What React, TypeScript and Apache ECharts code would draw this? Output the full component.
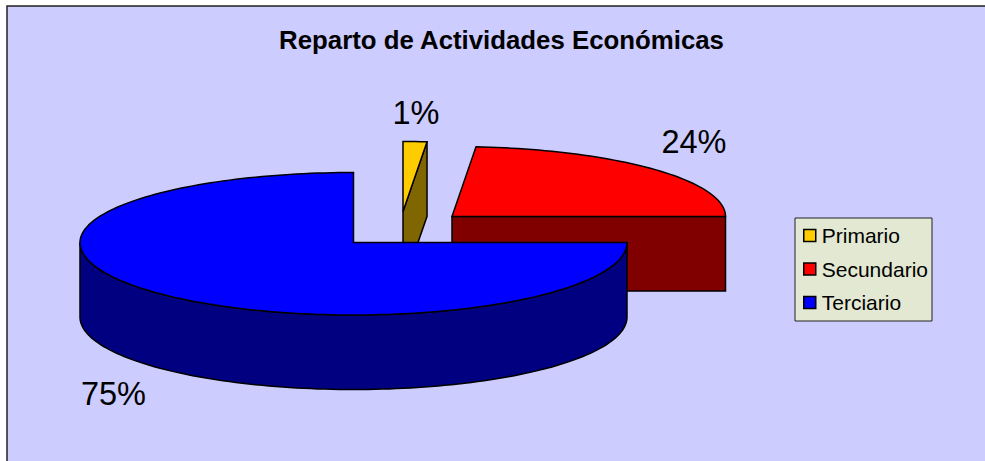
import React, { useEffect, useRef } from "react";
import * as echarts from "echarts";

const TITLE = "Reparto de Actividades Económicas";
const CATEGORIES = ["Primario", "Secundario", "Terciario"];
const VALUES = [1.4, 23.6, 75];
const TOP_COLORS = ["#FFCC00", "#FF0000", "#0000FF"];
const SIDE_COLORS = ["#806600", "#800000", "#000080"];

// Layout of the pie, in pixels
const RX = 273.5;
const RY_BACK = 70;
const RY_FRONT = 72.5;
const DEPTH = 74.5;
const SLICE_CENTERS = [[403, 211.5], [452, 216.5], [353.5, 242.5]];
const LABEL_CENTERS = [[416, 113], [694, 142], [113.5, 394]];

const TOTAL = VALUES.reduce((a, b) => a + b, 0);
const LINE = { stroke: "#000", lineWidth: 1.5, lineJoin: "miter" as const };

function rim(c: number[], deg: number, dy = 0): number[] {
  const a = (deg * Math.PI) / 180;
  const cos = Math.cos(a);
  return [c[0] + RX * Math.sin(a), c[1] - (cos > 0 ? RY_BACK : RY_FRONT) * cos + dy];
}

function arc(c: number[], from: number, to: number, dy = 0): number[][] {
  const n = Math.max(2, Math.ceil(Math.abs(to - from) / 1.5));
  const out: number[][] = [];
  for (let i = 0; i <= n; i++) out.push(rim(c, from + ((to - from) * i) / n, dy));
  return out;
}

function makeRender(index: number) {
  return (_params: any, api: any) => {
    const value = api.value(0);
    const before = VALUES.slice(0, index).reduce((a, b) => a + b, 0);
    const start = (before / TOTAL) * 360;
    const end = start + (value / TOTAL) * 360;
    const c = SLICE_CENTERS[index];
    const children: any[] = [];

    // Outer wall: only the part between 3 and 9 o'clock faces the viewer
    const wallFrom = Math.max(start, 90);
    const wallTo = Math.min(end, 270);
    if (wallTo > wallFrom) {
      const points = [...arc(c, wallFrom, wallTo), ...arc(c, wallTo, wallFrom, DEPTH)];
      children.push({
        type: "polygon",
        shape: { points },
        style: { fill: SIDE_COLORS[index], ...LINE },
      });
    }
    // Cut face at the clockwise end of the slice
    if (Math.sin((end * Math.PI) / 180) > 1e-6) {
      const r = rim(c, end);
      children.push({
        type: "polygon",
        shape: { points: [c, r, [r[0], r[1] + DEPTH], [c[0], c[1] + DEPTH]] },
        style: { fill: SIDE_COLORS[index], ...LINE },
      });
    }
    // Top face
    children.push({
      type: "polygon",
      shape: { points: [c, ...arc(c, start, end)] },
      style: { fill: TOP_COLORS[index], ...LINE },
    });
    // Percentage label
    children.push({
      type: "text",
      x: LABEL_CENTERS[index][0],
      y: LABEL_CENTERS[index][1],
      style: {
        text: `${Math.round((value / TOTAL) * 100)}%`,
        font: "32.5px 'Liberation Sans', Arial, sans-serif",
        fill: "#000",
        align: "center",
        verticalAlign: "middle",
      },
    });
    return { type: "group", children };
  };
}

export default function App() {
  const ref = useRef<HTMLDivElement>(null);
  useEffect(() => {
    document.body.style.margin = "0";
    const chart = echarts.init(ref.current!, null, { renderer: "svg" });
    chart.setOption({
      animation: false,
      backgroundColor: "#FFFFFF",
      title: {
        text: TITLE,
        left: 496.5,
        top: 22,
        textAlign: "center",
        textStyle: {
          fontFamily: "'Liberation Sans', Arial, sans-serif",
          fontWeight: "bold",
          fontSize: 25.8,
          color: "#000",
        },
      },
      legend: {
        orient: "vertical",
        left: 795,
        top: 218,
        padding: [7, 4, 8, 8],
        itemWidth: 12,
        itemHeight: 12,
        itemGap: 12.5,
        backgroundColor: "#E2E8D2",
        borderColor: "#222",
        borderWidth: 1,
        icon: "rect",
        textStyle: {
          fontFamily: "'Liberation Sans', Arial, sans-serif",
          fontSize: 21,
          color: "#000",
          padding: [0, 0, 0, 1],
        },
        itemStyle: { borderColor: "#000", borderWidth: 1.5 },
        data: CATEGORIES,
      },
      graphic: [
        {
          type: "rect",
          z: -1,
          silent: true,
          shape: { x: 7, y: 6, width: 1020, height: 500 },
          style: { fill: "#CCCCFF", stroke: "#222", lineWidth: 1.5 },
        },
      ],
      series: CATEGORIES.map((name, i) => ({
        type: "custom",
        name,
        coordinateSystem: "none",
        z: 2 + i,
        itemStyle: { color: TOP_COLORS[i] },
        renderItem: makeRender(i),
        data: [[VALUES[i]]],
      })),
    });
    return () => chart.dispose();
  }, []);
  return <div ref={ref} style={{ width: 985, height: 461 }} />;
}
